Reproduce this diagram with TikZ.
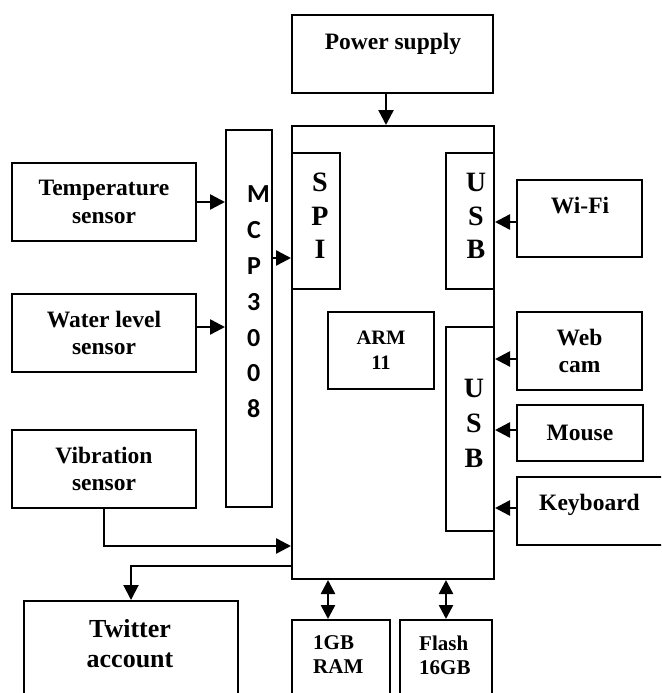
\documentclass[tikz,border=0pt]{standalone}
\usepackage{fontspec}
\setmainfont{Liberation Serif}
\newfontfamily\carl{Carlito}
\usetikzlibrary{arrows.meta}
\tikzset{
  box/.style={draw, line width=2pt, inner sep=0pt, align=center,
    font=\bfseries\fontsize{23.5}{27.5}\selectfont},
  lbl/.style={inner sep=0pt, align=center,
    font=\bfseries\fontsize{23.5}{27.5}\selectfont},
  arr/.style={line width=2.5pt, -{Triangle[length=15pt,width=15pt]}},
  darr/.style={line width=2.5pt,
    {Triangle[length=14pt,width=14pt]}-{Triangle[length=14pt,width=14pt]}},
  vtxt/.style={inner sep=0pt, align=center,
    font=\bfseries\fontsize{28}{33.5}\selectfont},
}
\begin{document}
\begin{tikzpicture}[x=1pt,y=-1pt]
\useasboundingbox (0,0) rectangle (661,693);
\clip (0,0) rectangle (661,693);
% boxes
\node[box, minimum width=201pt, minimum height=78pt] (power) at (392.5,54) {};
\node[lbl, anchor=base] (powertxt) at (393,50) {Power supply};
\node[box, minimum width=202pt, minimum height=453pt] (main) at (393,352.5) {};
\node[box, minimum width=48pt, minimum height=136pt] (spi) at (316,221) {};
\node[vtxt] (spitxt) at (320,216) {S\\P\\I};
\node[box, minimum width=48pt, minimum height=136pt] (usb1) at (470,221) {};
\node[vtxt] (usb1txt) at (476,216) {U\\S\\B};
\node[box, minimum width=48pt, minimum height=204pt] (usb2) at (470,429) {};
\node[vtxt, font=\bfseries\fontsize{28}{35}\selectfont] (usb2txt) at (474,423.5) {U\\S\\B};
\node[box, minimum width=106pt, minimum height=77pt,
  font=\bfseries\fontsize{20.5}{25}\selectfont] (arm) at (381,350.5) {ARM\\11};
\node[box, minimum width=46pt, minimum height=377pt] (mcp) at (249,318.5) {};
\node[inner sep=0pt, align=left, anchor=west,
  font=\carl\bfseries\fontsize{26}{35.8}\selectfont] (mcptxt) at (247,302)
  {M\\C\\P\\3\\0\\0\\8};
\node[box, minimum width=184pt, minimum height=78pt] (temp) at (104,202) {Temperature\\sensor};
\node[box, minimum width=184pt, minimum height=78pt] (water) at (104,333) {Water level\\sensor};
\node[box, minimum width=184pt, minimum height=78pt] (vib) at (104,469) {Vibration\\sensor};
\node[box, minimum width=125pt, minimum height=77pt] (wifi) at (579.5,218.5) {};
\node[lbl, anchor=base] (wifitxt) at (580,213) {Wi-Fi};
\node[box, minimum width=125pt, minimum height=78pt] (webcam) at (579.5,351) {Web\\cam};
\node[box, minimum width=126pt, minimum height=56pt] (mouse) at (580,433) {Mouse};
\node[box, minimum width=163pt, minimum height=68pt] (keyboard) at (598.5,511) {};
\node[lbl, anchor=base] (kbtxt) at (589.5,510) {Keyboard};
\node[box, minimum width=214pt, minimum height=109pt] (twitter) at (131,655.5) {};
\node[lbl, font=\bfseries\fontsize{26}{30}\selectfont] (twtxt) at (130,643.4) {Twitter\\account};
\node[box, minimum width=98pt, minimum height=90pt] (ram) at (341,665) {};
\node[lbl, align=left, anchor=west, font=\bfseries\fontsize{21}{24}\selectfont] (ramtxt) at (313,655) {1GB\\RAM};
\node[box, minimum width=92pt, minimum height=90pt] (flash) at (446,665) {};
\node[lbl, align=left, anchor=west, font=\bfseries\fontsize{21}{24}\selectfont] (flashtxt) at (419,655) {Flash\\16GB};
% connectors
\draw[arr] (power.south -| 386,0) -- (main.north -| 386,0);
\draw[arr] (temp.east) -- (temp.east -| mcp.west);
\draw[arr] (water.east |- 0,327) -- (mcp.west |- 0,327);
\draw[arr] (mcp.east |- 0,258) -- (spi.west |- 0,258);
\draw[arr] (wifi.west |- 0,222) -- (usb1.east |- 0,222);
\draw[arr] (webcam.west |- 0,359) -- (usb2.east |- 0,359);
\draw[arr] (mouse.west |- 0,430) -- (usb2.east |- 0,430);
\draw[arr] (keyboard.west |- 0,508) -- (usb2.east |- 0,508);
\draw[arr] (vib.south) |- (main.west |- 0,546);
\draw[arr, line width=2pt] (main.west |- 0,566) -| (twitter.north);
\draw[darr] (main.south -| 328,0) -- (ram.north -| 328,0);
\draw[darr] (main.south -| flash.north) -- (flash.north);
\end{tikzpicture}
\end{document}
